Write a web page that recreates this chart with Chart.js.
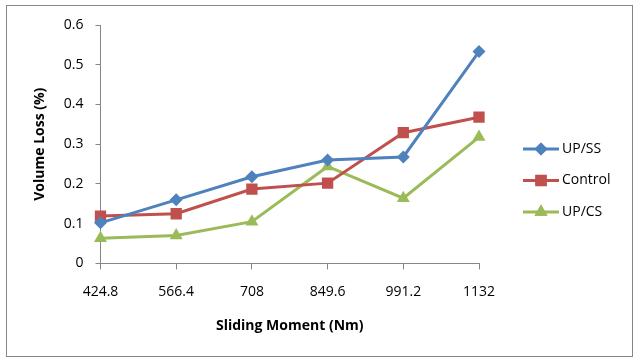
<!DOCTYPE html>
<html>
<head>
<meta charset="utf-8">
<script src="https://cdn.jsdelivr.net/npm/chart.js@4/dist/chart.umd.min.js"></script>
<style>
  body { margin: 0; background: #fff; }
  #wrap { position: absolute; left: 0; top: 0; width: 638px; height: 362px; }
  #frame { position: absolute; left: 6px; top: 5px; width: 625px; height: 350px; border: 1px solid #868686; }
  #grafico { position: absolute; left: 0; top: 0; }
</style>
</head>
<body>
<div id="wrap">
  <div id="frame"></div>
  <canvas id="grafico" width="638" height="362"></canvas>
</div>
<script>
// dati
var momenti = ['424.8', '566.4', '708', '849.6', '991.2', '1132'];
var upSS = [0.102, 0.160, 0.218, 0.260, 0.268, 0.533];
var controllo = [0.119, 0.125, 0.187, 0.202, 0.329, 0.368];
var upCS = [0.063, 0.070, 0.105, 0.244, 0.164, 0.318];
var tickY = [0, 0.1, 0.2, 0.3, 0.4, 0.5, 0.6];

var font = "'Open Sans', 'Liberation Sans', sans-serif";

function serie(titolo, valori, colore, stile, raggio) {
  return {
    label: titolo,
    data: valori,
    borderColor: colore,
    backgroundColor: colore,
    borderWidth: 3,
    pointStyle: stile,
    pointRadius: raggio,
    pointHoverRadius: raggio,
    pointBorderWidth: 0,
    tension: 0
  };
}

//#### legenda a destra: linea con marcatore in mezzo (come in Excel)
var legendaExcel = {
  id: 'legendaExcel',
  afterDraw: function (ch) {
    var c = ch.ctx;
    var x0 = 523, y0 = 149, passo = 31.5;
    c.save();
    ch.data.datasets.forEach(function (ds, i) {
      var y = y0 + i * passo;
      c.strokeStyle = ds.borderColor;
      c.lineWidth = 3;
      c.beginPath();
      c.moveTo(x0, y);
      c.lineTo(x0 + 36, y);
      c.stroke();
      c.fillStyle = ds.backgroundColor;
      Chart.helpers.drawPoint(c, { pointStyle: ds.pointStyle, radius: ds.pointRadius, rotation: 0, borderWidth: 0 }, x0 + 18, y);
      c.fill();
      c.fillStyle = '#000';
      c.font = '14px ' + font;
      c.textBaseline = 'middle';
      c.fillText(ds.label, x0 + 39, y);
    });
    c.restore();
  }
};

var ctx = document.getElementById('grafico');

var chart = new Chart(ctx, {
  type: 'line',
  data: {
    labels: momenti,
    datasets: [
      serie('UP/SS', upSS, '#4F81BD', 'rectRot', 6.5),
      serie('Control', controllo, '#C0504D', 'rect', 8),
      serie('UP/CS', upCS, '#9BBB59', 'triangle', 7.5)
    ]
  },
  plugins: [legendaExcel],
  options: {
    responsive: false,
    animation: false,
    events: [],
    layout: { padding: { left: 32, right: 159, top: 25, bottom: 28 } },
    plugins: {
      tooltip: { enabled: false },
      legend: { display: false }
    },
    scales: {
      x: {
        offset: false,
        border: { color: '#868686', width: 1 },
        grid: { drawOnChartArea: false, drawTicks: true, tickLength: 6, color: '#868686' },
        ticks: { color: '#000', padding: 14, maxRotation: 0, font: { family: font, size: 14 } },
        title: {
          display: true,
          text: 'Sliding Moment (Nm)',
          color: '#000',
          padding: { top: 3, bottom: 0 },
          font: { family: font, size: 14, weight: 'bold' }
        }
      },
      y: {
        min: 0,
        max: 0.6,
        border: { color: '#868686', width: 1 },
        grid: { drawOnChartArea: false, drawTicks: true, tickLength: 5, color: '#868686' },
        afterBuildTicks: function (scale) {
          scale.ticks = tickY.map(function (v) { return { value: v }; });
        },
        ticks: {
          color: '#000',
          padding: 12,
          font: { family: font, size: 14 },
          callback: function (v) { return String(Math.round(v * 10) / 10); }
        },
        title: {
          display: true,
          text: 'Volume Loss (%)',
          color: '#000',
          padding: { top: 0, bottom: 3 },
          font: { family: font, size: 14, weight: 'bold' }
        }
      }
    }
  }
});
</script>
</body>
</html>
